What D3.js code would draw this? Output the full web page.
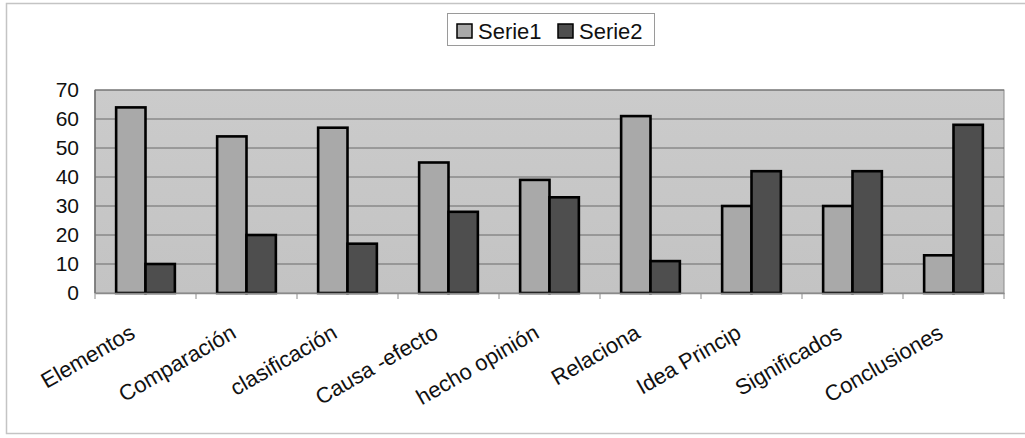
<!DOCTYPE html>
<html><head><meta charset="utf-8">
<script src="https://cdn.jsdelivr.net/npm/d3@7"></script>
<style>html,body{margin:0;padding:0;background:#fff;}svg{display:block;}</style>
</head><body>
<svg id="c" width="1025" height="438"></svg>
<script>
const categories = ["Elementos","Comparación","clasificación","Causa -efecto","hecho opinión","Relaciona","Idea Princip","Significados","Conclusiones"];
const serie1 = [64, 54, 57, 45, 39, 61, 30, 30, 13];
const serie2 = [10, 20, 17, 28, 33, 11, 42, 42, 58];
const seriesNames = ["Serie1","Serie2"];
const yTicks = [0,10,20,30,40,50,60,70];

const svg = d3.select("#c");
const font = "'Liberation Sans', Arial, sans-serif";
const colors = ["#a9a9a9", "#4e4e4e"];
const m = {left: 95, right: 1004, top: 90, bottom: 293};

svg.append("rect").attr("x",6.5).attr("y",3.5).attr("width",1030).attr("height",430)
  .attr("fill","#fff").attr("stroke","#c4c4c4").attr("stroke-width",1.5);

const x = d3.scaleBand().domain(categories).range([m.left, m.right]).paddingInner(0).paddingOuter(0);
const y = d3.scaleLinear().domain([0,70]).range([m.bottom, m.top]);

// plot background
const defs = svg.append("defs");
const g = defs.append("linearGradient").attr("id","bg").attr("x1",0).attr("y1",0).attr("x2",0).attr("y2",1);
g.append("stop").attr("offset","0%").attr("stop-color","#cbcbcb");
g.append("stop").attr("offset","100%").attr("stop-color","#c3c3c3");
svg.append("rect").attr("x",m.left).attr("y",m.top).attr("width",m.right-m.left).attr("height",m.bottom-m.top)
  .attr("fill","url(#bg)").attr("stroke","#8a8a8a").attr("stroke-width",1);

// gridlines
svg.append("g").selectAll("line").data(yTicks.filter(d=>d>0)).join("line")
  .attr("x1",m.left).attr("x2",m.right).attr("y1",d=>y(d)).attr("y2",d=>y(d))
  .attr("stroke","#6a6a6a").attr("stroke-width",1);

// left axis line
svg.append("line").attr("x1",m.left).attr("x2",m.left).attr("y1",m.top).attr("y2",m.bottom)
  .attr("stroke","#707070").attr("stroke-width",1.5);

// y labels
const yAxis = d3.axisLeft(y).tickValues(yTicks).tickSize(0).tickPadding(16);
const ya = svg.append("g").attr("transform",`translate(${m.left},0)`).call(yAxis);
ya.select(".domain").remove();
ya.selectAll("text").attr("font-family",font).attr("font-size",21).attr("fill","#111");

// bars
const inner = d3.scaleBand().domain(seriesNames).range([0, x.bandwidth()]).paddingInner(0).paddingOuter(0.72);
const data = categories.map((c,i)=>({c, vals:[serie1[i], serie2[i]]}));
const grp = svg.append("g").selectAll("g").data(data).join("g")
  .attr("transform",d=>`translate(${x(d.c)},0)`);
grp.selectAll("rect").data(d=>d.vals.map((v,k)=>({v,k}))).join("rect")
  .attr("x",d=>inner(seriesNames[d.k])).attr("width",inner.bandwidth())
  .attr("y",d=>y(d.v)).attr("height",d=>y(0)-y(d.v))
  .attr("fill",d=>colors[d.k]).attr("stroke","#000").attr("stroke-width",2.6);

// x axis
const xAxis = d3.axisBottom(x).tickSize(0).tickFormat("");
const xa = svg.append("g").attr("transform",`translate(0,${m.bottom})`).call(xAxis);
xa.select(".domain").attr("stroke","#8a8a8a").attr("stroke-width",1.5);
const bounds = categories.map(c=>x(c)).concat([m.right]);
svg.append("g").selectAll("line").data(bounds).join("line")
  .attr("x1",d=>d).attr("x2",d=>d).attr("y1",m.bottom).attr("y2",m.bottom+6)
  .attr("stroke","#8a8a8a").attr("stroke-width",1);

// x labels rotated
svg.append("g").selectAll("text").data(categories).join("text")
  .attr("transform",d=>`translate(${x(d)+x.bandwidth()/2-9},${m.bottom+44}) rotate(-30)`)
  .attr("text-anchor","end").attr("font-family",font).attr("font-size",22).attr("fill","#111")
  .text(d=>d);

// legend
const lg = svg.append("g");
lg.append("rect").attr("x",447.5).attr("y",13.5).attr("width",207).attr("height",32)
  .attr("fill","#fff").attr("stroke","#9a9a9a").attr("stroke-width",1);
const items = [{n:seriesNames[0],x:457},{n:seriesNames[1],x:558}];
items.forEach((it,k)=>{
  lg.append("rect").attr("x",it.x).attr("y",24).attr("width",15).attr("height",14)
    .attr("fill",colors[k]).attr("stroke","#000").attr("stroke-width",1.5);
  lg.append("text").attr("x",it.x+21).attr("y",39).attr("font-family",font).attr("font-size",22)
    .attr("fill","#111").text(it.n);
});
</script>
</body></html>
